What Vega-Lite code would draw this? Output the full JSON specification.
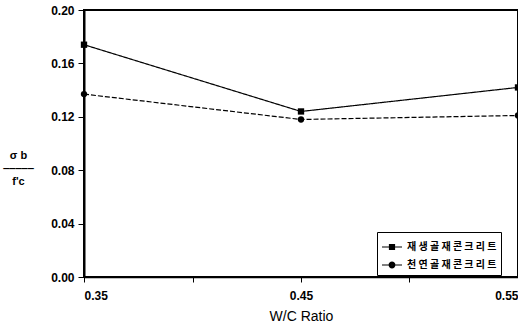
{
  "$schema": "https://vega.github.io/schema/vega-lite/v6.json",
  "width": 434,
  "height": 267,
  "autosize": {"type": "none"},
  "padding": {"left": 84, "top": 10, "right": 0, "bottom": 54},
  "background": "white",
  "config": {
    "view": {"stroke": "black", "strokeWidth": 2},
    "axis": {
      "grid": false,
      "domainColor": "black",
      "tickColor": "black",
      "labelColor": "black",
      "titleColor": "black",
      "labelFont": "Liberation Sans",
      "labelFontWeight": "bold",
      "labelFontSize": 12,
      "titleFont": "Liberation Sans"
    }
  },
  "data": {
    "values": [
      {"x": 0.35, "v": 0.174, "s": "재생골재콘크리트"},
      {"x": 0.45, "v": 0.124, "s": "재생골재콘크리트"},
      {"x": 0.55, "v": 0.142, "s": "재생골재콘크리트"},
      {"x": 0.35, "v": 0.137, "s": "천연골재콘크리트"},
      {"x": 0.45, "v": 0.118, "s": "천연골재콘크리트"},
      {"x": 0.55, "v": 0.121, "s": "천연골재콘크리트"}
    ]
  },
  "encoding": {
    "x": {
      "field": "x",
      "type": "quantitative",
      "scale": {"domain": [0.35, 0.55], "nice": false, "zero": false},
      "axis": {
        "values": [0.35, 0.4, 0.45, 0.5, 0.55],
        "format": ".2f",
        "labelExpr": "indexof(['0.40','0.50'], datum.label) >= 0 ? '' : datum.label",
        "title": "W/C Ratio",
        "titleFontSize": 14,
        "titleFontWeight": "normal",
        "tickSize": 5,
        "labelPadding": 8,
        "titlePadding": 8,
        "domainWidth": 1.5,
        "labelFlush": true
      }
    },
    "y": {
      "field": "v",
      "type": "quantitative",
      "scale": {"domain": [0, 0.2], "nice": false},
      "axis": {
        "values": [0, 0.04, 0.08, 0.12, 0.16, 0.2],
        "format": ".2f",
        "title": ["σ  b", "‒‒‒‒‒", "f'c"],
        "titleAngle": 0,
        "titleX": -66,
        "titleY": 145,
        "titleAlign": "center",
        "titleBaseline": "middle",
        "titleFontSize": 11,
        "titleFontWeight": "bold",
        "titleLineHeight": 13,
        "tickSize": 6,
        "labelPadding": 4,
        "domainWidth": 2,
        "labelFlush": false
      }
    }
  },
  "layer": [
    {
      "mark": {"type": "line", "color": "black", "strokeWidth": 1.2},
      "encoding": {
        "strokeDash": {
          "field": "s",
          "scale": {"domain": ["재생골재콘크리트", "천연골재콘크리트"], "range": [[1, 0], [5, 2]]},
          "legend": null
        }
      }
    },
    {
      "mark": {"type": "point", "filled": true, "color": "black", "size": 40, "opacity": 1},
      "encoding": {
        "shape": {
          "field": "s",
          "scale": {"domain": ["재생골재콘크리트", "천연골재콘크리트"], "range": ["square", "circle"]},
          "legend": null
        }
      }
    },
    {
      "mark": {"type": "point", "filled": false, "color": "black", "strokeWidth": 1.2, "size": 0, "opacity": 1},
      "encoding": {
        "shape": {
          "field": "s",
          "scale": {
            "domain": ["재생골재콘크리트", "천연골재콘크리트"],
            "range": [
              "M-1,0H-0.3M0.3,0H1M-0.25,-0.25H0.25V0.25H-0.25ZM-0.25,-0.15H0.25M-0.25,-0.05H0.25M-0.25,0.05H0.25M-0.25,0.15H0.25",
              "M-1,0H-0.3M0.3,0H1M-0.28,0A0.28,0.28 0 1,0 0.28,0A0.28,0.28 0 1,0 -0.28,0ZM-0.18,0A0.18,0.18 0 1,0 0.18,0A0.18,0.18 0 1,0 -0.18,0ZM-0.08,0A0.08,0.08 0 1,0 0.08,0A0.08,0.08 0 1,0 -0.08,0Z"
            ]
          },
          "legend": {
            "title": null,
            "orient": "none",
            "legendX": 293,
            "legendY": 222,
            "strokeColor": "black",
            "fillColor": "white",
            "padding": 4,
            "symbolSize": 400,
            "symbolStrokeColor": "black",
            "symbolStrokeWidth": 1.2,
            "symbolOpacity": 1,
            "labelFont": "Noto Sans CJK KR",
            "labelFontWeight": "bold",
            "labelFontSize": 10,
            "labelColor": "black",
            "labelOffset": 4,
            "rowPadding": 2,
            "labelExpr": "join(split(datum.label, ''), ' ')",
            "encode": {
              "legend": {"update": {"strokeWidth": {"value": 2}}}
            }
          }
        }
      }
    }
  ],
  "resolve": {"scale": {"shape": "independent"}}
}
